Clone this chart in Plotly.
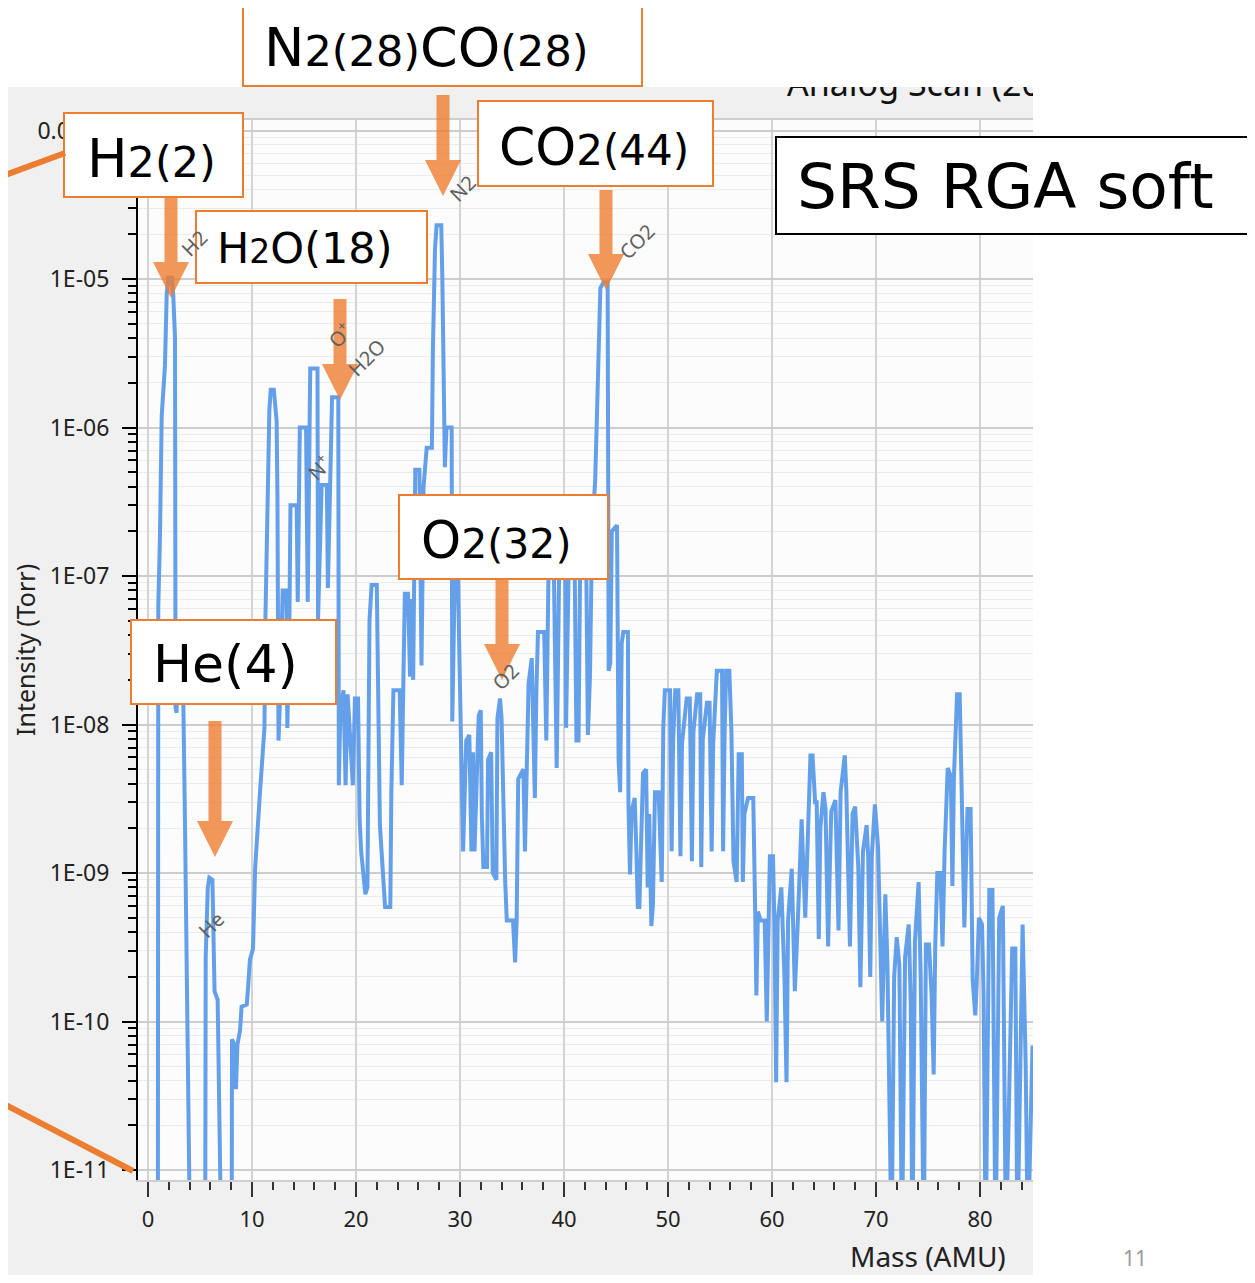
import math
import plotly.graph_objects as go

W, H = 1255, 1283          # reference picture size
OFF = 8                     # default page margin of the html body
FW, FH = W - 2 * OFF, H - 2 * OFF

# ---------------- data ----------------
MASS = [
    0.95, 0.99, 1.15, 1.32, 1.63, 1.80, 1.95, 2.20, 2.30, 2.43, 2.60, 2.65, 2.75, 2.90, 3.25, 3.40,
    3.56, 3.72, 3.80, 3.93, 4.05, 5.50, 5.55, 5.75, 5.90, 6.20, 6.30, 6.40, 6.70, 6.95, 7.05, 8.05,
    8.08, 8.30, 8.46, 8.60, 8.85, 9.00, 9.50, 9.65, 9.80, 10.10, 10.30, 10.77, 11.20, 11.30, 11.50, 11.67,
    11.80, 12.10, 12.37, 12.45, 12.55, 12.70, 12.95, 13.30, 13.40, 13.60, 13.70, 14.30, 14.40, 14.60, 15.20, 15.36,
    15.60, 16.30, 16.35, 16.70, 17.20, 17.30, 17.70, 18.30, 18.35, 18.50, 18.80, 19.00, 19.20, 19.70, 19.90, 20.20,
    20.35, 20.50, 20.90, 21.10, 21.30, 21.50, 22.00, 22.10, 22.30, 22.80, 23.30, 23.40, 23.60, 24.20, 24.40, 24.60,
    24.70, 25.00, 25.20, 25.35, 25.50, 25.70, 26.10, 26.30, 26.50, 26.80, 27.30, 27.40, 27.60, 27.75, 28.20, 28.30,
    28.40, 28.55, 28.70, 29.20, 29.26, 29.40, 29.50, 29.80, 30.10, 30.30, 30.60, 30.90, 31.10, 31.25, 31.40, 31.80,
    32.00, 32.10, 32.25, 32.60, 32.70, 33.00, 33.15, 33.50, 33.60, 33.85, 34.00, 34.20, 34.35, 34.50, 35.10, 35.30,
    35.45, 35.60, 36.10, 36.25, 36.40, 36.60, 36.90, 37.05, 37.20, 37.35, 37.50, 38.10, 38.30, 38.50, 38.80, 39.00,
    39.30, 39.60, 40.10, 40.20, 40.50, 41.00, 41.20, 41.40, 41.60, 42.10, 42.30, 42.50, 42.70, 43.00, 43.30, 43.50,
    43.80, 44.20, 44.25, 44.30, 44.45, 44.60, 45.10, 45.20, 45.25, 45.40, 45.55, 45.70, 46.15, 46.20, 46.35, 46.50,
    46.80, 46.95, 47.10, 47.25, 47.40, 47.60, 47.90, 48.05, 48.20, 48.40, 48.55, 48.75, 49.10, 49.25, 49.40, 49.55,
    49.70, 50.20, 50.35, 50.50, 50.70, 51.00, 51.20, 51.35, 51.80, 52.10, 52.30, 52.45, 52.80, 53.10, 53.20, 53.35,
    53.75, 54.00, 54.20, 54.35, 54.70, 55.20, 55.30, 55.45, 55.60, 55.90, 56.10, 56.30, 56.60, 56.80, 57.10, 57.20,
    57.35, 57.70, 58.20, 58.40, 58.50, 58.65, 58.90, 59.30, 59.50, 59.65, 59.80, 60.10, 60.25, 60.40, 60.55, 60.90,
    61.20, 61.40, 61.55, 61.90, 62.20, 62.50, 62.85, 63.20, 63.50, 63.70, 63.90, 64.15, 64.30, 64.50, 64.65, 64.95,
    65.15, 65.40, 65.55, 65.70, 66.10, 66.25, 66.40, 66.60, 67.00, 67.15, 67.50, 67.75, 68.00, 68.30, 68.50, 68.75,
    69.10, 69.25, 69.45, 69.60, 69.90, 70.20, 70.35, 70.60, 70.90, 71.10, 71.50, 71.75, 72.00, 72.25, 72.50, 72.80,
    73.15, 73.35, 73.50, 73.75, 74.10, 74.30, 74.60, 74.80, 75.10, 75.35, 75.55, 75.70, 75.90, 76.20, 76.40, 76.60,
    76.90, 77.20, 77.35, 77.50, 77.80, 78.05, 78.20, 78.50, 78.80, 79.10, 79.30, 79.55, 79.70, 79.90, 80.20, 80.35,
    80.55, 80.90, 81.20, 81.50, 81.85, 82.20, 82.50, 83.10, 83.40, 83.60, 84.10, 84.40, 84.60, 85.05, 85.20,
]
INTENSITY = [
    3e-12, 6.2e-8, 1.8e-7, 1.2e-6, 2.6e-6, 7.8e-6, 1.05e-5, 9.0e-6, 1.05e-5, 7.8e-6, 4.0e-6, 1.3e-8, 1.2e-8, 3.0e-8, 3.0e-8, 1.4e-8,
    2.1e-9, 3.6e-10, 5.5e-11, 2.1e-11, 3e-12, 3e-12, 2.7e-10, 8.0e-10, 9.3e-10, 9.0e-10, 4.4e-10, 1.6e-10, 1.4e-10, 1.9e-11, 3e-12, 3e-12,
    7.6e-11, 7.0e-11, 3.5e-11, 7.0e-11, 8.7e-11, 1.26e-10, 1.3e-10, 1.8e-10, 2.6e-10, 3.1e-10, 1.07e-9, 3.5e-9, 9.5e-9, 5.5e-8, 5.4e-7, 1.3e-6,
    1.8e-6, 1.8e-6, 1.1e-6, 3.3e-7, 7.8e-9, 1.5e-8, 8.0e-8, 8.0e-8, 9.5e-9, 5.0e-8, 3.0e-7, 3.0e-7, 6.7e-8, 1.0e-6, 1.0e-6, 6.7e-8,
    2.5e-6, 2.5e-6, 5.0e-8, 4.1e-7, 4.1e-7, 8.3e-8, 1.6e-6, 1.6e-6, 3.9e-9, 1.26e-8, 1.7e-8, 3.9e-9, 1.6e-8, 3.9e-9, 1.5e-8, 1.5e-8,
    2.3e-9, 1.4e-9, 7.2e-10, 8.0e-10, 5.0e-8, 8.7e-8, 8.7e-8, 1.9e-8, 2.1e-9, 5.9e-10, 5.9e-10, 3.5e-9, 1.7e-8, 1.7e-8, 3.9e-9, 3.0e-8,
    7.6e-8, 7.6e-8, 2.1e-8, 7.0e-8, 2.0e-8, 5.2e-7, 5.2e-7, 2.5e-8, 4.0e-7, 7.3e-7, 7.3e-7, 3.5e-6, 1.6e-5, 2.3e-5, 2.3e-5, 1.05e-5,
    2.6e-6, 5.4e-7, 1.0e-6, 1.0e-6, 1.05e-8, 3.0e-8, 1.0e-7, 1.0e-7, 5.8e-9, 1.4e-9, 7.8e-9, 8.5e-9, 1.4e-9, 6.5e-9, 1.4e-9, 1.15e-8,
    1.25e-8, 2.5e-9, 1.1e-9, 1.1e-9, 5.8e-9, 6.5e-9, 1.0e-9, 9.0e-10, 1.1e-8, 1.5e-8, 1.1e-8, 2.0e-9, 8.7e-10, 4.8e-10, 4.8e-10, 2.5e-10,
    4.8e-10, 4.3e-9, 5.0e-9, 1.4e-9, 5.0e-9, 1.9e-8, 2.8e-8, 1.2e-8, 3.2e-9, 1.7e-8, 4.2e-8, 4.2e-8, 7.8e-9, 9.1e-8, 2.0e-7, 1.5e-7,
    5.1e-9, 2.5e-7, 2.5e-7, 9.5e-9, 1.8e-7, 1.8e-7, 7.8e-9, 7.8e-9, 2.5e-7, 2.5e-7, 8.5e-9, 2.1e-8, 2.0e-7, 4.4e-7, 2.0e-6, 8.7e-6,
    9.5e-6, 9.5e-6, 4.9e-7, 2.3e-8, 2.6e-8, 2.0e-7, 2.2e-7, 4.6e-8, 5.8e-9, 3.5e-9, 3.5e-8, 4.2e-8, 4.2e-8, 2.9e-9, 9.8e-10, 2.6e-9,
    3.2e-9, 1.5e-9, 5.9e-10, 5.9e-10, 2.0e-9, 4.7e-9, 5.0e-9, 8.0e-10, 2.5e-9, 4.4e-10, 6.0e-10, 3.5e-9, 3.5e-9, 1.4e-9, 8.7e-10, 9.5e-9,
    1.7e-8, 1.7e-8, 1.4e-9, 8.0e-9, 1.7e-8, 1.7e-8, 1.3e-9, 7.5e-9, 1.5e-8, 1.5e-8, 1.2e-9, 9.0e-9, 1.6e-8, 1.6e-8, 1.1e-9, 8.0e-9,
    1.4e-8, 1.4e-8, 1.4e-9, 7.5e-9, 2.3e-8, 2.3e-8, 1.4e-9, 9.0e-9, 2.3e-8, 2.3e-8, 9.0e-9, 1.2e-9, 8.7e-10, 6.3e-9, 6.3e-9, 8.7e-10,
    2.5e-9, 3.2e-9, 3.2e-9, 4.8e-10, 1.5e-10, 5.5e-10, 4.8e-10, 4.8e-10, 1.0e-10, 3.6e-10, 1.3e-9, 1.3e-9, 4.0e-10, 3.9e-11, 4.8e-10, 8.0e-10,
    2.0e-10, 3.9e-11, 4.8e-10, 1.07e-9, 1.6e-10, 5.0e-10, 2.3e-9, 5.0e-10, 3.0e-9, 6.2e-9, 6.2e-9, 3.0e-9, 3.0e-9, 3.6e-10, 2.0e-9, 3.5e-9,
    2.7e-9, 3.2e-10, 1.0e-9, 2.6e-9, 3.1e-9, 1.2e-9, 4.1e-10, 3.5e-9, 6.2e-9, 3.6e-9, 3.2e-10, 2.5e-9, 2.8e-9, 1.1e-9, 1.7e-10, 1.4e-9,
    2.1e-9, 1.3e-9, 2.0e-10, 1.3e-9, 2.9e-9, 1.5e-9, 5.0e-10, 1.0e-10, 7.2e-10, 2.5e-10, 3e-12, 2.0e-10, 3.7e-10, 2.4e-10, 3e-12, 2.7e-10,
    4.5e-10, 1.3e-10, 3e-12, 3.5e-10, 8.7e-10, 2.0e-10, 3e-12, 3.3e-10, 3.3e-10, 1.5e-10, 4.4e-11, 3.3e-10, 1.0e-9, 1.0e-9, 3.2e-10, 1.4e-9,
    5.1e-9, 4.5e-9, 8.2e-10, 4.5e-9, 1.6e-8, 1.6e-8, 5.0e-9, 4.3e-10, 2.7e-9, 2.7e-9, 1.9e-10, 1.1e-10, 1.9e-10, 5.0e-10, 4.5e-10, 1.5e-10,
    3e-12, 7.7e-10, 7.7e-10, 3e-12, 5.0e-10, 6.0e-10, 3e-12, 3.1e-10, 3.1e-10, 3e-12, 4.5e-10, 5.0e-11, 3e-12, 6.7e-11, 6.7e-11,
]

X_TICK_VALUES = [0, 10, 20, 30, 40, 50, 60, 70, 80]
Y_TICK_VALUES = [1e-11, 1e-10, 1e-9, 1e-8, 1e-7, 1e-6, 1e-5, 1e-4]
Y_TICK_LABELS = ["1E-11", "1E-10", "1E-09", "1E-08", "1E-07", "1E-06", "1E-05", "0.0001"]
Y_MINOR_TICKS = [k * 10.0 ** n for n in range(-11, -4) for k in range(2, 10)] + [2e-5, 3e-5, 4e-5, 5e-5, 6e-5, 7e-5, 8e-5, 9e-5]

PEAK_LABELS = ["H2", "He", "N<sup>+</sup>", "O<sup>+</sup>", "H2O", "N2", "O2", "CO2"]
PEAK_LABEL_MASS = [4.4, 6.1, 16.35, 18.45, 21.05, 30.2, 34.4, 47.0]
PEAK_LABEL_INT = [1.74e-5, 4.5e-10, 5.4e-7, 4.2e-6, 2.95e-6, 4.1e-5, 2.1e-8, 1.8e-5]

ORANGE = "#ED7D31"
BLUE = "#64A0EA"
TXT_FONT = "DejaVu Sans"
UI_FONT = "Noto Sans"


def px(x):
    return min(1.0, max(0.0, (x - OFF) / FW))


def py(y):
    return min(1.0, max(0.0, 1 - (y - OFF) / FH))


def pxf(x):
    return (x - OFF) / FW


def pyf(y):
    return 1 - (y - OFF) / FH


fig = go.Figure()

fig.add_trace(go.Scatter(
    x=MASS, y=INTENSITY, mode="lines",
    line=dict(color=BLUE, width=4),
    hoverinfo="skip", showlegend=False,
))

# clipped window title (cut off at the top of the screenshot)
fig.add_trace(go.Scatter(
    x=[0.760], y=[0.99], mode="text", text=["Analog Scan (2021/04/01)"],
    textposition="middle right", textfont=dict(family=UI_FONT, size=34, color="#111111"),
    cliponaxis=True, xaxis="x2", yaxis="y2", hoverinfo="skip", showlegend=False,
))

shapes = []
# application window background and plot background
shapes.append(dict(type="rect", xref="paper", yref="paper", x0=pxf(7), x1=pxf(1033), y0=pyf(1290), y1=pyf(87),
                   fillcolor="#f0f0f0", line=dict(width=0), layer="below"))
shapes.append(dict(type="rect", xref="paper", yref="paper", x0=pxf(138), x1=pxf(1033), y0=pyf(1180), y1=pyf(120),
                   fillcolor="#fcfcfc", line=dict(width=0), layer="below"))

# orange call-out boxes
BOXES = [
    (243, 2, 642, 86), (64, 113, 243, 197), (196, 211, 427, 283), (478, 101, 713, 186),
    (399, 495, 608, 579), (131, 620, 336, 704),
]
for (x0, y0, x1, y1) in BOXES:
    shapes.append(dict(type="rect", xref="paper", yref="paper", x0=pxf(x0), x1=pxf(x1), y0=pyf(y1), y1=pyf(y0),
                       fillcolor="white", line=dict(color=ORANGE, width=2), layer="above"))
# black "SRS RGA soft" box
shapes.append(dict(type="rect", xref="paper", yref="paper", x0=pxf(776), x1=pxf(1270), y0=pyf(234), y1=pyf(137),
                   fillcolor="white", line=dict(color="black", width=2), layer="above"))

# arrows (center x, top y, tip y) in pixels
ARROWS = [(443, 95, 196), (171, 197, 298), (340, 299, 400), (606, 190, 290), (502, 579, 680), (215, 721, 857)]
for (cx, top, tip) in ARROWS:
    hl = 36
    sw = 6.5
    hw = 18
    pts = [(cx - sw, top), (cx + sw, top), (cx + sw, tip - hl), (cx + hw, tip - hl), (cx, tip),
           (cx - hw, tip - hl), (cx - sw, tip - hl)]
    path = "M " + " L ".join(f"{pxf(a):.5f},{pyf(b):.5f}" for a, b in pts) + " Z"
    shapes.append(dict(type="path", xref="paper", yref="paper", path=path,
                       fillcolor=ORANGE, opacity=0.8, line=dict(width=0), layer="above"))

# orange connector lines on the left
shapes.append(dict(type="line", xref="paper", yref="paper", x0=pxf(0), y0=pyf(177), x1=pxf(65), y1=pyf(153),
                   line=dict(color=ORANGE, width=6), layer="above"))
shapes.append(dict(type="line", xref="paper", yref="paper", x0=pxf(0), y0=pyf(1102), x1=pxf(133), y1=pyf(1171),
                   line=dict(color=ORANGE, width=6), layer="above"))

annotations = []


def box_text(html, x_left, y_mid, size, color="black"):
    annotations.append(dict(text=html, xref="paper", yref="paper", x=pxf(x_left), y=pyf(y_mid),
                            xanchor="left", yanchor="middle", showarrow=False,
                            font=dict(family=TXT_FONT, size=size, color=color)))


def sm(t, s):
    return f'<span style="font-size:{s}px">{t}</span>'


box_text("N" + sm("2(28)", 43) + "CO" + sm("(28)", 43), 262, 47, 54)
box_text("H" + sm("2(2)", 43), 85, 158, 54)
box_text("H" + sm("2", 33) + "O(18)", 215, 248, 43)
box_text("CO" + sm("2(44)", 42), 497, 147, 52)
box_text("O" + sm("2(32)", 41), 419, 540, 51)
box_text("He(4)", 151, 664, 52)
box_text("SRS RGA soft", 795, 187, 63)

# rotated peak labels
for lab, m, v in zip(PEAK_LABELS, PEAK_LABEL_MASS, PEAK_LABEL_INT):
    annotations.append(dict(text=lab, x=m, y=math.log10(v), xref="x", yref="y", showarrow=False,
                            xanchor="center", yanchor="middle",
                            textangle=-45, font=dict(family=UI_FONT, size=20, color="#606060")))

# axis titles and page number
annotations.append(dict(text="Intensity (Torr)", xref="paper", yref="paper", x=pxf(25), y=pyf(650),
                        xanchor="center", yanchor="middle",
                        textangle=-90, showarrow=False, font=dict(family=UI_FONT, size=25, color="#222222")))
annotations.append(dict(text="Mass (AMU)", xref="paper", yref="paper", x=pxf(928), y=pyf(1256),
                        xanchor="center", yanchor="middle",
                        showarrow=False, font=dict(family=UI_FONT, size=28, color="#222222")))
annotations.append(dict(text="11", xref="paper", yref="paper", x=pxf(1135), y=pyf(1258),
                        xanchor="center", yanchor="middle",
                        showarrow=False, font=dict(family=UI_FONT, size=21, color="#9a9a9a")))

fig.update_layout(
    width=FW, height=FH,
    margin=dict(l=0, r=0, t=0, b=0, autoexpand=False),
    paper_bgcolor="white",
    plot_bgcolor="rgba(0,0,0,0)",
    showlegend=False,
    shapes=shapes,
    annotations=annotations,
    xaxis=dict(
        domain=[px(138), px(1033)], range=[-0.96, 85.1], automargin=False,
        tickmode="array", tickvals=X_TICK_VALUES,
        showgrid=True, gridcolor="#d4d4d4", gridwidth=1.5, zeroline=False,
        ticks="outside", ticklen=15, tickwidth=1.5, tickcolor="#333333",
        minor=dict(tickmode="linear", tick0=0, dtick=2, ticks="outside", ticklen=8, tickwidth=1.5,
                   tickcolor="#333333", showgrid=False),
        showline=True, linecolor="#cfcfcf", linewidth=1.5, mirror=True,
        tickfont=dict(family=UI_FONT, size=22, color="#222222"), ticklabelstandoff=4,
        fixedrange=True,
    ),
    yaxis=dict(
        domain=[py(1180), py(120)], type="log", range=[-11.067, -3.929], automargin=False,
        tickmode="array", tickvals=Y_TICK_VALUES, ticktext=Y_TICK_LABELS,
        showgrid=True, gridcolor="#cdcdcd", gridwidth=1.5, zeroline=False,
        ticks="outside", ticklen=14, tickwidth=1.5, tickcolor="#000000",
        minor=dict(tickmode="array", tickvals=Y_MINOR_TICKS, ticks="outside", ticklen=8, tickwidth=1.5,
                   tickcolor="#000000", showgrid=True, gridcolor="#ececec", gridwidth=1),
        showline=True, linecolor="#000000", linewidth=2,
        tickfont=dict(family=UI_FONT, size=23, color="#222222"), ticklabelstandoff=8,
        fixedrange=True,
    ),
    xaxis2=dict(domain=[px(8), px(1033)], range=[0, 1], visible=False, anchor="y2", fixedrange=True,
                automargin=False),
    yaxis2=dict(domain=[py(120), py(87)], range=[0, 1], visible=False, anchor="x2", fixedrange=True,
                automargin=False),
)

fig.write_html("out.html")
